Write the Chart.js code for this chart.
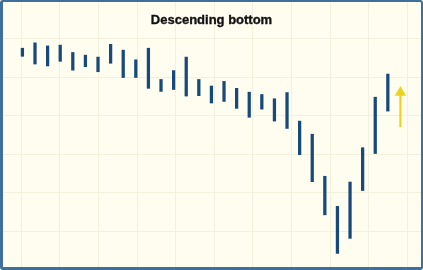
<!DOCTYPE html>
<html>
<head>
<meta charset="utf-8">
<script src="https://cdn.jsdelivr.net/npm/chart.js@4/dist/chart.umd.min.js"></script>
<style>
  html, body { margin: 0; padding: 0; background: #fffdef; }
  #wrap { position: relative; width: 423px; height: 270px; }
  #c { display: block; width: 423px; height: 270px; }
  #frame { position: absolute; left: 0; top: 0; width: 423px; height: 270px; box-sizing: border-box;
           border: 2px solid #3f6f9c; border-left-width: 3px; border-bottom-width: 3px; border-radius: 3px; pointer-events: none; }
</style>
</head>
<body>
<div id="wrap">
  <canvas id="c" width="423" height="270"></canvas>
  <div id="frame"></div>
</div>
<script>
// ---- data ----
const title = "Descending bottom";
const sessions = [1,2,3,4,5,6,7,8,9,10,11,12,13,14,15,16,17,18,19,20,21,22,23,24,25,26,27,28,29,30];
const highs = [57.5,58.9,58.1,58.3,56.4,55.7,55.2,58.5,57.0,54.5,57.5,49.4,51.7,55.2,49.4,47.7,48.9,47.1,46.1,45.5,44.4,46.0,38.6,35.2,24.3,16.5,22.8,31.7,44.8,50.8];
const lows  = [55.4,53.4,52.9,54.1,51.8,52.7,51.4,53.6,49.9,49.9,47.1,46.3,46.8,45.1,45.2,43.3,43.7,41.9,39.6,41.7,38.6,36.7,29.9,22.9,14.3,4.3,8.2,20.6,30.2,41.2];
const arrowSession = 31;
const arrowFrom = 37.0;
const arrowTo = 46.0;

const bars = sessions.map((s, i) => ({ x: s, y: [lows[i], highs[i]] }));

const titlePlugin = {
  id: 'innerTitle',
  afterDraw(chart) {
    const ctx = chart.ctx;
    ctx.save();
    ctx.font = 'bold 13px "Liberation Sans", Arial, sans-serif';
    ctx.fillStyle = '#111111';
    ctx.strokeStyle = '#111111';
    ctx.lineWidth = 0.35;
    ctx.textAlign = 'center';
    ctx.textBaseline = 'alphabetic';
    ctx.fillText(title, 211.5, 24);
    ctx.strokeText(title, 211.5, 24);
    ctx.restore();
  }
};

new Chart(document.getElementById('c'), {
  type: 'bar',
  data: {
    datasets: [
      {
        type: 'line',
        data: [{ x: arrowSession, y: arrowFrom }, { x: arrowSession, y: arrowTo }],
        borderColor: '#e9d422',
        backgroundColor: '#e9d422',
        borderWidth: 2.2,
        pointStyle: 'triangle',
        pointRadius: [0, 6.5],
        pointBorderWidth: 0,
        pointBackgroundColor: '#e9d422',
        fill: false,
        clip: false,
        order: 0
      },
      {
        type: 'bar',
        data: bars,
        backgroundColor: '#17497a',
        borderWidth: 0,
        barThickness: 2.6,
        order: 1
      }
    ]
  },
  options: {
    responsive: false,
    animation: false,
    events: [],
    layout: { padding: 0, autoPadding: false },
    plugins: { legend: { display: false }, title: { display: false }, tooltip: { enabled: false } },
    scales: {
      x: {
        type: 'linear',
        offset: false,
        min: -0.778,
        max: 32.79,
        afterBuildTicks(axis) {
          const t = [];
          for (let v = 0.913; v < 32.79; v += 3.063) t.push({ value: v });
          axis.ticks = t;
        },
        ticks: { display: false },
        grid: { color: '#f3f0dd', lineWidth: 1, drawTicks: false, offset: false },
        border: { display: false }
      },
      y: {
        type: 'linear',
        min: 0,
        max: 70,
        ticks: { display: false, stepSize: 10 },
        grid: { color: '#f3f0dd', lineWidth: 1, drawTicks: false },
        border: { display: false }
      }
    }
  },
  plugins: [titlePlugin]
});
</script>
</body>
</html>
